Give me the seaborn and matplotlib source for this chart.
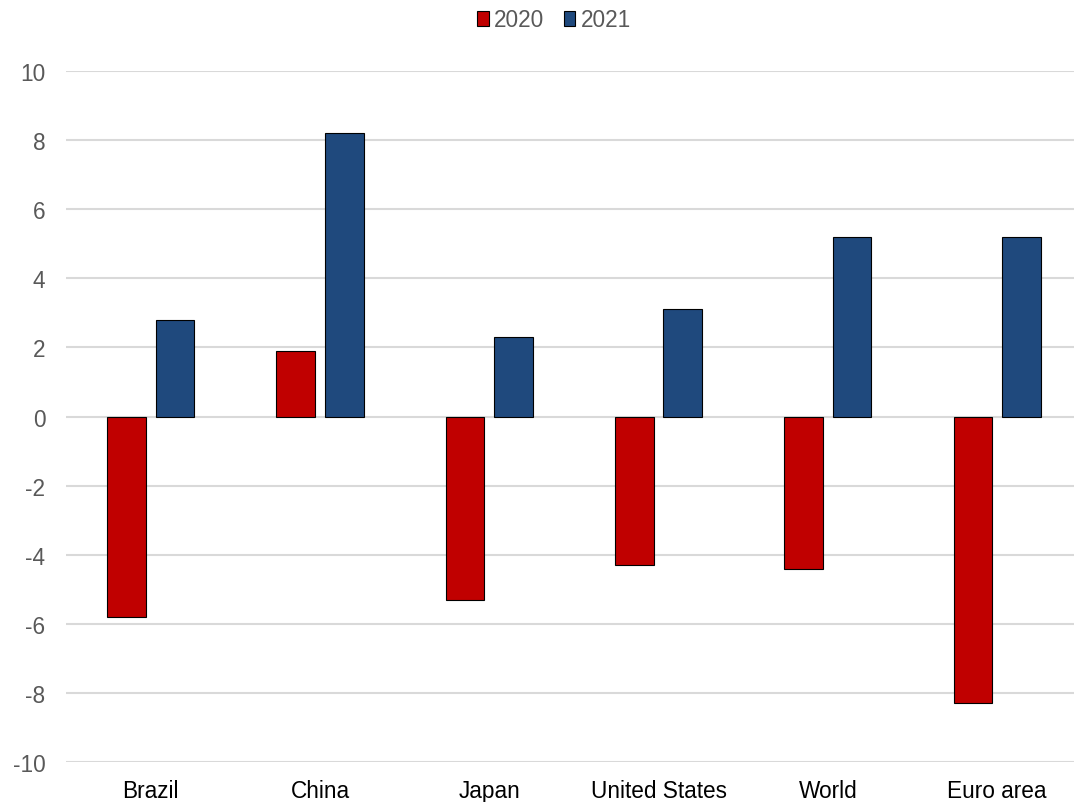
import matplotlib
matplotlib.use("Agg")
import matplotlib.pyplot as plt
import seaborn as sns
import pandas as pd
from matplotlib.patches import Patch

# Real GDP growth projections (percent)
countries = ["Brazil", "China", "Japan", "United States", "World", "Euro area"]
years = ["2020", "2021"]
growth_2020 = [-5.8, 1.9, -5.3, -4.3, -4.4, -8.3]
growth_2021 = [2.8, 8.2, 2.3, 3.1, 5.2, 5.2]
y_ticks = [-10, -8, -6, -4, -2, 0, 2, 4, 6, 8, 10]

colors = {"2020": "#C00000", "2021": "#1F497D"}

df = pd.DataFrame({
    "country": countries * 2,
    "year": [years[0]] * len(countries) + [years[1]] * len(countries),
    "growth": growth_2020 + growth_2021,
})

sns.set_theme(style="white")
plt.rcParams["font.family"] = ["Liberation Sans", "DejaVu Sans"]

fig = plt.figure(figsize=(10.74, 8.03), dpi=100)
ax = fig.add_axes([0.0616, 0.0498, 0.9456, 0.8605])

sns.barplot(data=df, x="country", y="growth", hue="year", order=countries,
            hue_order=years, palette=colors, saturation=1, width=0.572, gap=0.2,
            edgecolor="black", linewidth=0.8, ax=ax, legend=False, zorder=3)

ax.set_ylim(-10, 10)
ax.set_yticks(y_ticks)
ax.set_yticklabels([str(t) for t in y_ticks])
ax.set_xlim(-0.5, len(countries) - 0.5)
ax.yaxis.grid(True, color="#D9D9D9", linewidth=1.5, zorder=0)
ax.set_axisbelow(True)
for s in ax.spines.values():
    s.set_visible(False)
ax.set_xlabel("")
ax.set_ylabel("")
ax.tick_params(axis="y", labelsize=16.3, labelcolor="#595959", length=0, pad=15)
ax.tick_params(axis="x", labelsize=16.3, labelcolor="#000000", length=0, pad=12)

handles = [Patch(facecolor=colors[y], edgecolor="black", linewidth=0.8, label=y)
           for y in years]
fig.legend(handles=handles, loc="center", bbox_to_anchor=(0.516, 0.974), ncol=2,
           frameon=False, fontsize=16.3, handlelength=0.5, handleheight=0.6,
           handletextpad=0.25, columnspacing=0.85, labelcolor="#595959")

fig.savefig("out.png", dpi=100)
